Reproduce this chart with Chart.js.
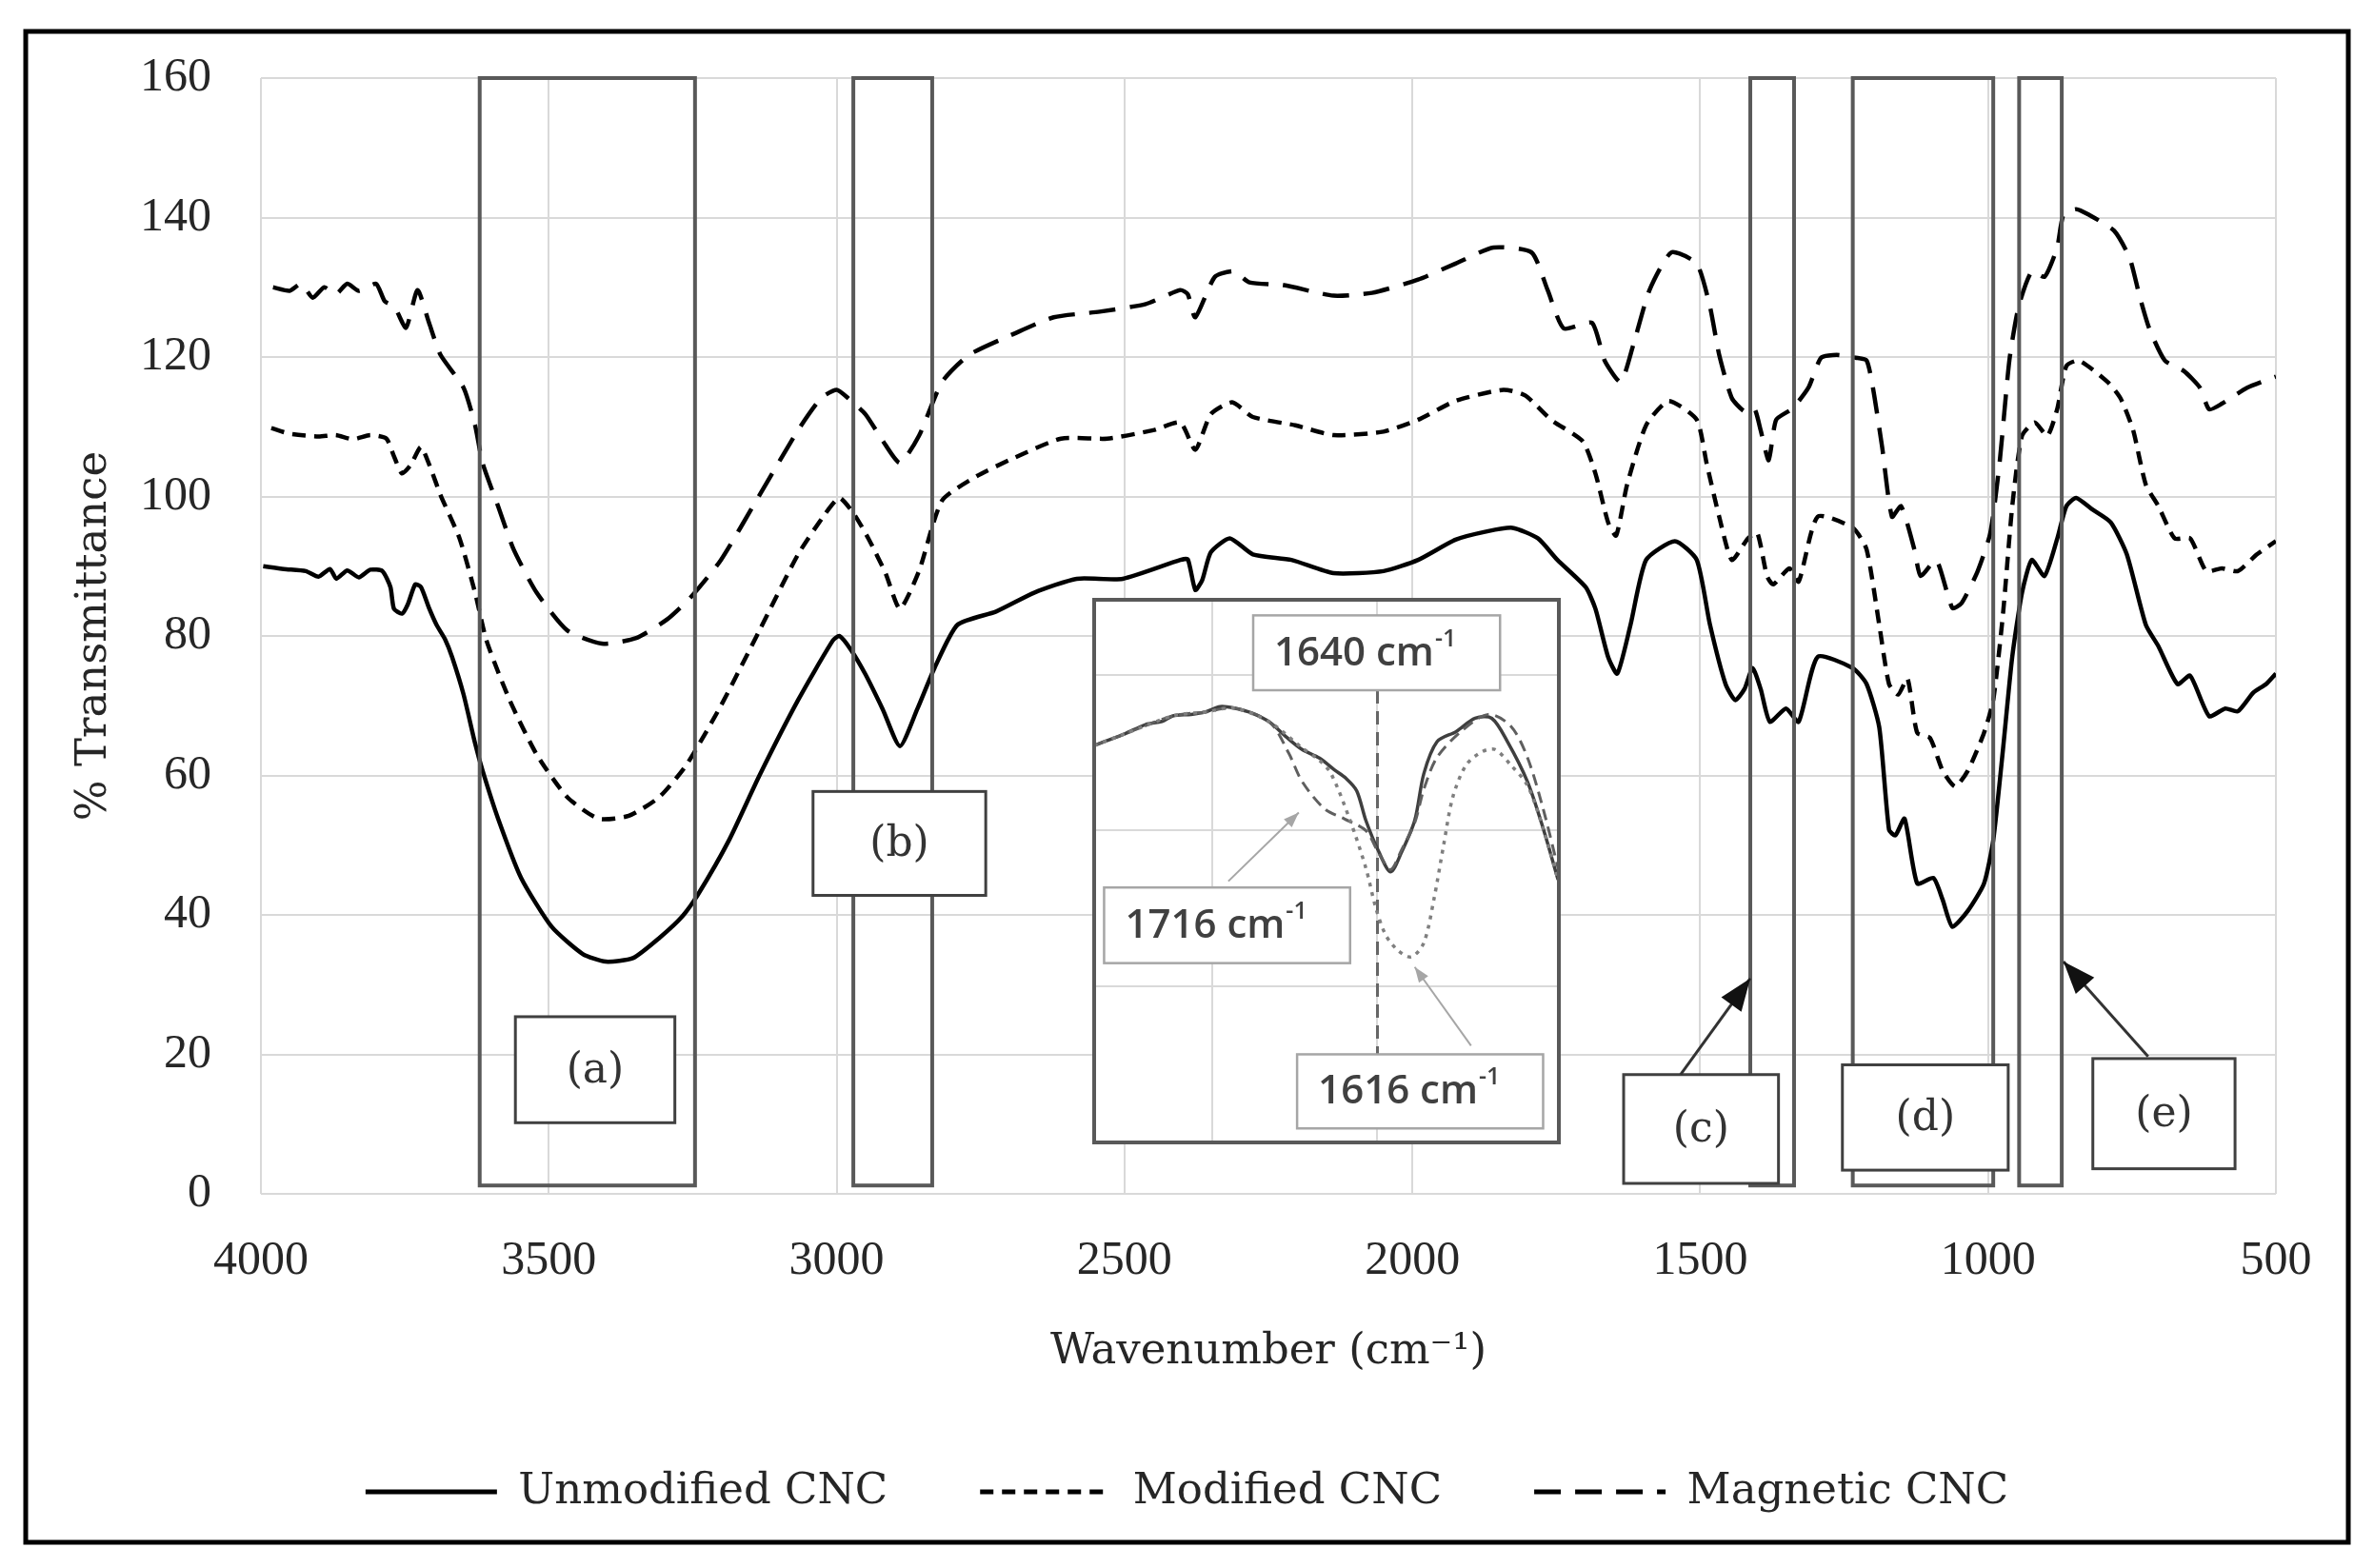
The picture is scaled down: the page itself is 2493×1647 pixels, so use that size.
<!DOCTYPE html>
<html><head><meta charset="utf-8">
<script src="https://cdn.jsdelivr.net/npm/chart.js@4.4.0/dist/chart.umd.min.js"></script>
<style>
html,body{margin:0;padding:0;background:#fff;overflow:hidden}
#main{position:absolute;left:0;top:0}
#inset{position:absolute;left:1146px;top:627px}
</style></head>
<body>
<canvas id="main" width="2493" height="1647"></canvas>
<canvas id="inset" width="494" height="576"></canvas>
<script>
// ---------- main chart data ----------
const seriesNames = ['Unmodified CNC', 'Modified CNC', 'Magnetic CNC'];
const xTicks = [4000, 3500, 3000, 2500, 2000, 1500, 1000, 500];
const yTicks = [0, 20, 40, 60, 80, 100, 120, 140, 160];

const unmodWn = [3996,3960,3922,3900,3880,3869,3850,3830,3810,3789,3775,3769,3755,3745,3732,3722,3708,3695,3680,3668,3648,3628,3615,3588,3548,3495,3441,3401,3354,3308,3268,3241,3187,3134,3067,3007,2995,2975,2950,2920,2890,2860,2830,2790,2723,2657,2583,2503,2403,2390,2377,2365,2350,2317,2277,2210,2137,2050,1990,1925,1870,1826,1782,1748,1699,1682,1660,1644,1621,1594,1544,1506,1483,1456,1439,1423,1409,1395,1379,1351,1329,1296,1235,1211,1189,1172,1161,1145,1123,1095,1079,1062,1035,1007,991,974,958,941,924,902,880,864,847,820,787,759,726,704,671,649,616,588,566,539,517,500];
const unmodT  = [90.0,89.6,89.3,88.5,89.6,88.2,89.4,88.4,89.5,89.3,87.0,83.9,83.2,84.5,87.4,87.0,84.0,81.6,79.5,77.0,71.6,64.6,60.7,53.8,45.3,38.3,34.4,33.3,33.8,36.7,39.8,42.9,50.7,60.0,70.8,79.3,80.0,78.0,74.5,69.5,64.2,69.5,75.4,81.6,83.5,86.2,88.2,88.2,90.9,91.0,86.6,88.0,92.0,94.0,91.7,90.9,89.0,89.3,90.9,93.8,95.0,95.5,94.0,90.9,87.0,83.9,77.0,74.6,81.6,90.9,93.6,90.9,81.6,73.1,70.8,72.4,75.4,72.4,67.7,69.6,67.7,77.0,75.4,73.1,66.9,52.2,51.4,53.8,44.5,45.3,42.2,38.3,40.6,44.5,50.7,63.8,77.0,86.2,90.9,88.6,93.9,98.6,99.8,98.2,96.3,91.7,81.6,78.5,73.1,74.3,68.5,69.6,69.2,71.9,73.1,74.6];

const modWn = [3982,3950,3900,3870,3840,3810,3782,3770,3755,3740,3722,3705,3688,3655,3628,3608,3568,3521,3468,3414,3361,3308,3261,3201,3134,3067,3020,2995,2970,2945,2915,2890,2857,2817,2757,2690,2610,2530,2450,2403,2377,2350,2313,2277,2203,2137,2050,1990,1925,1842,1804,1759,1704,1682,1660,1646,1627,1594,1555,1506,1489,1467,1445,1417,1401,1384,1373,1345,1329,1296,1235,1211,1189,1172,1156,1140,1123,1101,1079,1057,1035,1007,991,974,958,941,919,897,880,864,842,792,770,748,726,704,676,649,621,594,566,533,500];
const modT  = [109.8,109.0,108.6,108.8,108.2,108.8,108.3,106.0,103.3,104.5,107.1,104.0,100.2,94.0,86.2,79.3,70.8,63.0,56.9,53.8,54.2,56.9,61.5,70.0,80.8,91.7,97.5,99.8,97.5,94.0,89.0,83.9,89.3,99.4,102.9,105.6,108.3,108.3,109.5,110.6,106.7,111.8,113.5,111.4,110.2,108.8,109.3,111.0,113.7,115.3,114.5,111.0,107.9,103.3,96.3,94.4,101.7,110.2,113.7,111.0,104.8,97.1,90.9,94.0,94.8,88.6,87.4,89.7,87.8,97.1,95.5,92.4,81.6,73.1,71.6,73.9,66.1,65.4,60.7,58.4,60.7,66.1,70.8,83.2,98.6,108.7,110.6,108.7,112.5,118.7,119.5,116.4,114.1,109.5,101.7,98.6,94.0,94.0,89.3,89.7,89.3,91.7,93.6];

const magWn = [3979,3950,3930,3910,3890,3870,3850,3830,3800,3785,3768,3748,3728,3708,3688,3648,3628,3615,3588,3561,3521,3468,3408,3348,3294,3254,3201,3134,3067,3027,3000,2980,2950,2920,2890,2857,2817,2770,2690,2623,2543,2463,2403,2390,2377,2343,2310,2283,2223,2137,2070,1990,1925,1859,1793,1765,1737,1688,1666,1638,1616,1588,1550,1506,1483,1467,1445,1423,1406,1395,1381,1368,1340,1312,1290,1263,1230,1211,1200,1184,1167,1151,1128,1117,1090,1062,1046,1018,996,980,963,947,924,902,880,869,847,825,781,754,737,720,693,660,632,616,594,550,500];
const magT  = [130.0,129.5,130.5,128.5,130.0,129.0,130.5,129.5,130.5,128.0,127.2,124.2,129.6,124.9,120.3,115.6,110.2,104.8,98.6,92.4,86.2,80.8,78.9,79.7,82.4,85.5,90.9,100.2,109.5,114.1,115.3,114.1,111.8,108.0,104.8,108.7,116.4,120.3,123.4,125.7,126.5,127.6,129.6,129.0,125.7,131.5,132.3,130.7,130.3,128.8,129.2,131.1,133.4,135.7,135.0,129.6,124.1,124.9,119.5,116.4,121.8,129.6,135.0,133.4,127.2,120.3,114.1,112.2,112.6,109.5,105.2,111.0,112.6,115.6,119.9,120.3,119.9,119.5,115.6,107.1,97.1,98.6,92.4,88.6,90.9,84.0,84.7,89.3,94.8,104.8,119.5,127.2,132.3,131.5,135.7,140.4,141.2,140.4,138.1,134.2,128.8,124.1,119.5,118.0,115.6,112.5,113.3,115.6,117.2];

// highlighted regions (a)-(e) and their label boxes, in data units
const regionNames = ['(a)', '(b)', '(c)', '(d)', '(e)'];
const regionHighWn = [3620, 2971, 1413, 1235, 946];
const regionLowWn  = [3246, 2834, 1337, 991, 872];
const regionTop = 160, regionBottom = 1.2;
const labelHighWn = [3558, 3041, 1633, 1253, 818];
const labelLowWn  = [3281, 2741, 1364, 965, 571];
const labelTopT   = [25.4, 57.7, 17.1, 18.5, 19.4];
const labelBotT   = [10.2, 42.8, 1.5, 3.4, 3.6];
const arrowFromWn = [1534, 722];
const arrowFromT  = [17.1, 19.7];
const arrowToWn   = [1413, 869];
const arrowToT    = [30.9, 33.3];

// ---------- inset data ----------
const insetSolidWn = [1992,1970,1955,1930,1910,1897,1875,1858,1840,1823,1800,1780,1760,1741,1720,1702,1688,1675,1664,1648,1634,1621,1605,1594,1578,1555,1532,1512,1493,1469,1450,1432];
const insetSolidT  = [50.9,51.8,52.4,53.6,54.0,54.7,54.9,55.2,55.9,55.7,55.0,53.9,52.0,50.4,49.3,47.8,46.7,45.1,41.3,37.2,34.7,37.2,41.3,47.3,51.4,52.7,54.4,54.4,51.4,46.3,40.3,33.7];
const insetDashWn  = [1992,1955,1897,1858,1823,1780,1757,1741,1714,1690,1664,1648,1634,1621,1605,1594,1578,1547,1516,1489,1469,1450,1432];
const insetDashT   = [50.9,52.4,54.7,55.2,55.7,53.9,49.9,46.3,42.8,41.5,40.0,37.0,35.0,37.5,41.0,45.3,49.4,52.9,54.9,53.4,49.4,42.8,35.2];
const insetDotWn   = [1992,1955,1897,1858,1823,1780,1741,1720,1706,1683,1664,1652,1640,1625,1609,1594,1582,1570,1559,1543,1524,1508,1489,1469,1450,1432];
const insetDotT    = [50.9,52.4,54.7,55.2,55.7,53.9,50.6,49.0,47.3,41.3,35.2,30.1,26.6,24.6,23.8,25.6,31.1,38.2,44.3,48.4,50.1,50.4,48.4,45.8,40.3,33.7];
const insetGridWn = [1850, 1650];
const insetGridT  = [20, 40, 60];
const insetNotes = ['1640', '1716', '1616'];
const insetNoteHighWn = [1800, 1980, 1747];
const insetNoteLowWn  = [1502, 1683, 1450];
const insetNoteTopT   = [67.6, 32.7, 11.3];
const insetNoteBotT   = [58.0, 23.0, 1.8];
const insetArrowFromWn = [1830, 1537];
const insetArrowFromT  = [33.5, 12.4];
const insetArrowToWn   = [1745, 1605];
const insetArrowToT    = [42.3, 22.5];
const insetMarkWn = 1650, insetMarkTopT = 58.0, insetMarkBotT = 11.3;

// ---------- helpers ----------
const pts = (xs, ys) => xs.map((v, i) => ({x: v, y: ys[i]}));
function arrow(ctx, x1, y1, x2, y2, head, width) {
  ctx.beginPath(); ctx.moveTo(x1, y1); ctx.lineTo(x2, y2); ctx.stroke();
  const a = Math.atan2(y2 - y1, x2 - x1);
  ctx.beginPath();
  ctx.moveTo(x2, y2);
  ctx.lineTo(x2 - head * Math.cos(a) + width * Math.sin(a), y2 - head * Math.sin(a) - width * Math.cos(a));
  ctx.lineTo(x2 - head * Math.cos(a) - width * Math.sin(a), y2 - head * Math.sin(a) + width * Math.cos(a));
  ctx.closePath(); ctx.fill();
}

const serif = 'DejaVu Serif';
const txt = '#262626';

const mainPlugin = {
  id: 'mainDeco',
  beforeDraw(c) {
    const ctx = c.ctx; ctx.save(); ctx.fillStyle = '#fff'; ctx.fillRect(0, 0, c.width, c.height); ctx.restore();
  },
  afterDatasetsDraw(c) {
    const {ctx} = c; const x = c.scales.x, y = c.scales.y;
    ctx.save();
    ctx.strokeStyle = '#595959'; ctx.lineWidth = 4;
    for (let i = 0; i < regionNames.length; i++) {
      const x1 = x.getPixelForValue(regionHighWn[i]), x2 = x.getPixelForValue(regionLowWn[i]);
      const y1 = y.getPixelForValue(regionTop), y2 = y.getPixelForValue(regionBottom);
      ctx.strokeRect(x1, y1, x2 - x1, y2 - y1);
    }
    ctx.lineWidth = 3; ctx.strokeStyle = '#404040';
    ctx.font = '44px "' + serif + '"'; ctx.textAlign = 'center'; ctx.textBaseline = 'middle';
    for (let i = 0; i < regionNames.length; i++) {
      const x1 = x.getPixelForValue(labelHighWn[i]), x2 = x.getPixelForValue(labelLowWn[i]);
      const y1 = y.getPixelForValue(labelTopT[i]), y2 = y.getPixelForValue(labelBotT[i]);
      ctx.fillStyle = '#fff'; ctx.fillRect(x1, y1, x2 - x1, y2 - y1);
      ctx.strokeRect(x1, y1, x2 - x1, y2 - y1);
      ctx.fillStyle = '#333'; ctx.fillText(regionNames[i], (x1 + x2) / 2, (y1 + y2) / 2 + 2);
    }
    ctx.strokeStyle = '#333'; ctx.fillStyle = '#111'; ctx.lineWidth = 3;
    for (let i = 0; i < arrowFromWn.length; i++) {
      arrow(ctx, x.getPixelForValue(arrowFromWn[i]), y.getPixelForValue(arrowFromT[i]),
                 x.getPixelForValue(arrowToWn[i]), y.getPixelForValue(arrowToT[i]), 34, 13);
    }
    ctx.restore();
  },
  afterDraw(c) {
    const ctx = c.ctx; ctx.save();
    ctx.strokeStyle = '#000'; ctx.lineWidth = 5;
    ctx.strokeRect(27, 33, 2439, 1587);
    ctx.restore();
  }
};

new Chart(document.getElementById('main'), {
  type: 'line',
  data: {
    datasets: [
      {label: seriesNames[0], data: pts(unmodWn, unmodT), borderColor: '#000', borderWidth: 4.5, borderDash: [], pointRadius: 0, tension: 0.2},
      {label: seriesNames[1], data: pts(modWn, modT), borderColor: '#000', borderWidth: 4.5, borderDash: [14, 9], pointRadius: 0, tension: 0.2},
      {label: seriesNames[2], data: pts(magWn, magT), borderColor: '#000', borderWidth: 4.5, borderDash: [28, 15], pointRadius: 0, tension: 0.2}
    ]
  },
  options: {
    responsive: false, animation: false, devicePixelRatio: 1,
    events: [],
    layout: {padding: {top: 68, left: 0, right: 0, bottom: 47.5}},
    plugins: {
      tooltip: {enabled: false},
      legend: {
        position: 'bottom',
        labels: {
          usePointStyle: true, pointStyle: 'line', pointStyleWidth: 138,
          padding: 97, color: txt, font: {family: serif, size: 45},
          generateLabels(chart) {
            const items = Chart.defaults.plugins.legend.labels.generateLabels(chart);
            items.forEach(it => {
              const ds = chart.data.datasets[it.datasetIndex];
              it.lineDash = ds.borderDash || [];
              it.lineWidth = 5;
              it.strokeStyle = '#000';
              it.pointStyle = 'line';
            });
            return items;
          }
        }
      }
    },
    scales: {
      x: {
        type: 'linear', reverse: true, min: 500, max: 4000,
        afterBuildTicks(s) { s.ticks = xTicks.map(v => ({value: v})); },
        ticks: {padding: 41, color: txt, font: {family: 'Liberation Serif', size: 50}, maxRotation: 0, autoSkip: false, callback: v => String(v)},
        grid: {color: '#d9d9d9', lineWidth: 2, drawTicks: false},
        border: {display: false},
        title: {display: true, text: 'Wavenumber (cm\u207B\u00B9)', color: txt, font: {family: serif, size: 45}, padding: {top: 0, bottom: 0}},
        afterFit(s) { s.height = 193.5; }
      },
      y: {
        min: 0, max: 160,
        afterBuildTicks(s) { s.ticks = yTicks.map(v => ({value: v})); },
        ticks: {padding: 52, color: txt, font: {family: 'Liberation Serif', size: 50}, callback: v => String(v)},
        grid: {color: '#d9d9d9', lineWidth: 2, drawTicks: false},
        border: {display: false},
        title: {display: true, text: '% Transmittance', color: txt, font: {family: serif, size: 45}, padding: {top: 72, bottom: 0}},
        afterFit(s) { s.width = 274; }
      },
      yRight: {
        type: 'linear', position: 'right', display: true,
        grid: {display: false, drawTicks: false}, ticks: {display: false}, border: {display: false},
        afterFit(s) { s.width = 103; }
      }
    }
  },
  plugins: [mainPlugin]
});

// ---------- inset ----------
const insetPlugin = {
  id: 'insetDeco',
  beforeDraw(c) {
    const {ctx, chartArea: a} = c; ctx.save(); ctx.fillStyle = '#fff';
    ctx.fillRect(a.left, a.top, a.right - a.left, a.bottom - a.top); ctx.restore();
  },
  beforeDatasetsDraw(c) {
    const {ctx} = c; const x = c.scales.x, y = c.scales.y;
    ctx.save(); ctx.strokeStyle = '#666'; ctx.lineWidth = 3; ctx.setLineDash([14, 8]);
    const px = x.getPixelForValue(insetMarkWn);
    ctx.beginPath(); ctx.moveTo(px, y.getPixelForValue(insetMarkTopT)); ctx.lineTo(px, y.getPixelForValue(insetMarkBotT)); ctx.stroke();
    ctx.restore();
  },
  afterDatasetsDraw(c) {
    const {ctx, chartArea: a} = c; const x = c.scales.x, y = c.scales.y;
    ctx.save();
    ctx.strokeStyle = '#a6a6a6'; ctx.fillStyle = '#a6a6a6'; ctx.lineWidth = 2;
    for (let i = 0; i < insetArrowFromWn.length; i++) {
      arrow(ctx, x.getPixelForValue(insetArrowFromWn[i]), y.getPixelForValue(insetArrowFromT[i]),
                 x.getPixelForValue(insetArrowToWn[i]), y.getPixelForValue(insetArrowToT[i]), 16, 6);
    }
    for (let i = 0; i < insetNotes.length; i++) {
      const x1 = x.getPixelForValue(insetNoteHighWn[i]), x2 = x.getPixelForValue(insetNoteLowWn[i]);
      const y1 = y.getPixelForValue(insetNoteTopT[i]), y2 = y.getPixelForValue(insetNoteBotT[i]);
      ctx.fillStyle = '#fff'; ctx.fillRect(x1, y1, x2 - x1, y2 - y1);
      ctx.strokeStyle = '#a6a6a6'; ctx.lineWidth = 2.5; ctx.strokeRect(x1, y1, x2 - x1, y2 - y1);
      ctx.fillStyle = '#404040'; ctx.textAlign = 'left'; ctx.textBaseline = 'middle';
      ctx.font = '600 42px "Open Sans"';
      const t = insetNotes[i] + ' cm';
      const tx = x1 + 22, ty = (y1 + y2) / 2 + 1;
      ctx.fillText(t, tx, ty);
      const w = ctx.measureText(t).width;
      ctx.font = '600 25px "Open Sans"';
      ctx.fillText('-1', tx + w + 1, ty - 15);
    }
    ctx.strokeStyle = '#595959'; ctx.lineWidth = 4;
    ctx.strokeRect(a.left, a.top, a.right - a.left, a.bottom - a.top);
    ctx.restore();
  }
};

new Chart(document.getElementById('inset'), {
  type: 'line',
  data: {
    datasets: [
      {label: 'dotted', data: pts(insetDotWn, insetDotT), borderColor: '#7f7f7f', borderWidth: 3.5, borderDash: [4, 6], pointRadius: 0, tension: 0.3},
      {label: 'dashed', data: pts(insetDashWn, insetDashT), borderColor: '#5f5f5f', borderWidth: 3, borderDash: [12, 7], pointRadius: 0, tension: 0.3},
      {label: 'solid', data: pts(insetSolidWn, insetSolidT), borderColor: '#3f3f3f', borderWidth: 3.5, pointRadius: 0, tension: 0.3}
    ]
  },
  options: {
    responsive: false, animation: false, devicePixelRatio: 1, events: [],
    layout: {padding: 3},
    plugins: {legend: {display: false}, tooltip: {enabled: false}},
    scales: {
      x: {
        type: 'linear', reverse: true, min: 1431, max: 1992,
        afterBuildTicks(s) { s.ticks = insetGridWn.map(v => ({value: v})); },
        ticks: {display: false}, grid: {color: '#d9d9d9', lineWidth: 2, drawTicks: false}, border: {display: false},
        afterFit(s) { s.height = 0; }
      },
      y: {
        min: 0, max: 69.6,
        afterBuildTicks(s) { s.ticks = insetGridT.map(v => ({value: v})); },
        ticks: {display: false}, grid: {color: '#d9d9d9', lineWidth: 2, drawTicks: false}, border: {display: false},
        afterFit(s) { s.width = 0; }
      }
    }
  },
  plugins: [insetPlugin]
});
</script>
</body></html>
